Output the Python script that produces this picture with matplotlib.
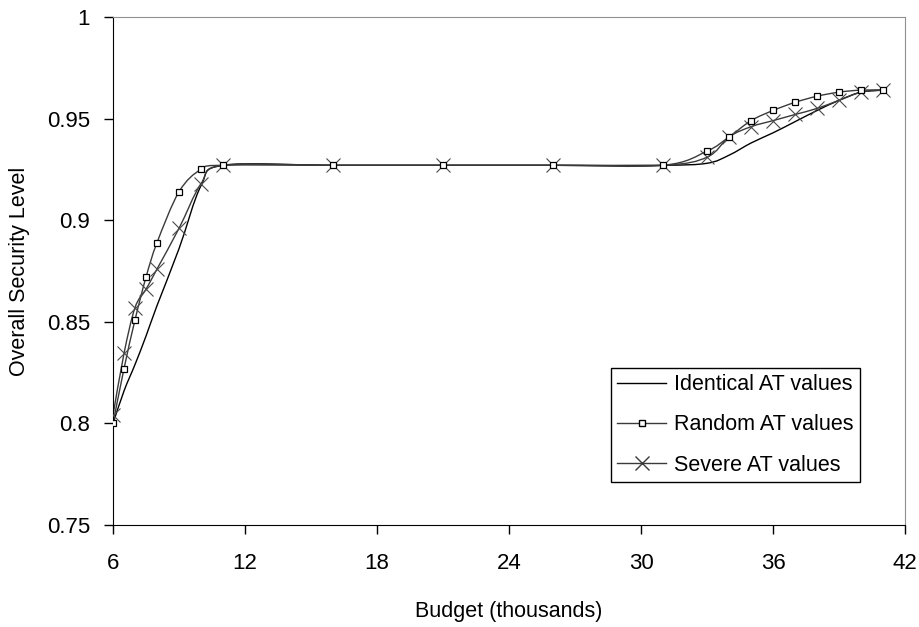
import numpy as np
import matplotlib
matplotlib.use("Agg")
import matplotlib.pyplot as plt
from matplotlib.path import Path
from matplotlib.patches import PathPatch
from matplotlib.lines import Line2D

plt.rcParams['font.family'] = ['Liberation Sans', 'DejaVu Sans']

# budget (thousands)
budget = [6, 6.5, 7, 7.5, 8, 9, 10, 11, 16, 21, 26, 31,
          33, 34, 35, 36, 37, 38, 39, 40, 41]

identical = [0.800, 0.816, 0.829, 0.843, 0.858, 0.886, 0.917, 0.927,
             0.927, 0.927, 0.927, 0.927,
             0.928, 0.932, 0.938, 0.943, 0.9485, 0.954, 0.959, 0.963, 0.964]
random_at = [0.800, 0.827, 0.851, 0.872, 0.889, 0.914, 0.925, 0.927,
             0.927, 0.927, 0.927, 0.927,
             0.934, 0.941, 0.949, 0.954, 0.958, 0.961, 0.963, 0.964, 0.964]
severe = [0.804, 0.8345, 0.857, 0.866, 0.876, 0.896, 0.918, 0.927,
          0.927, 0.927, 0.927, 0.927,
          0.931, 0.941, 0.946, 0.949, 0.952, 0.955, 0.959, 0.963, 0.964]

labels = ['Identical AT values', 'Random AT values', 'Severe AT values']
xticks = [6, 12, 18, 24, 30, 36, 42]
yticks = [0.75, 0.8, 0.85, 0.9, 0.95, 1]


def smooth_path(xs, ys):
    # excel style smoothed line: bezier through the points
    p = np.column_stack([xs, ys]).astype(float)
    n = len(p)
    verts = [p[0]]
    codes = [Path.MOVETO]
    for i in range(n - 1):
        p0 = p[i - 1] if i > 0 else p[i]
        p3 = p[i + 2] if i + 2 < n else p[i + 1]
        c1 = p[i] + (p[i + 1] - p0) / 6
        c2 = p[i + 1] - (p3 - p[i]) / 6
        verts += [c1, c2, p[i + 1]]
        codes += [Path.CURVE4] * 3
    return Path(verts, codes)


fig = plt.figure(figsize=(9.19, 6.27), dpi=100)
ax = fig.add_axes([0.123, 0.1627, 0.862, 0.8103])

series = [
    (identical, 'black', None, 0),
    (random_at, '#3a3a3a', 's', 5),
    (severe, '#3a3a3a', 'x', 9.5),
]
for ys, col, mk, ms in series:
    ax.add_patch(PathPatch(smooth_path(budget, ys), facecolor='none',
                           edgecolor=col, lw=1.0, zorder=2))
    if mk == 's':
        ax.plot(budget, ys, ls='none', marker='s', ms=ms, mfc='white',
                mec='black', mew=0.9, zorder=4)
    elif mk == 'x':
        ax.plot(budget, ys, ls='none', marker='x', ms=ms, color='#4a4a4a',
                mew=0.8, zorder=3)

ax.set_xlim(6, 42)
ax.set_ylim(0.75, 1)
ax.set_xticks(xticks)
ax.set_xticklabels([str(t) for t in xticks])
ax.set_yticks(yticks)
ax.set_yticklabels(['0.75', '0.8', '0.85', '0.9', '0.95', '1'])
ax.tick_params(axis='both', direction='out', length=6.5, width=1,
               labelsize=16, colors='black')
ax.tick_params(axis='x', pad=14)
ax.tick_params(axis='y', pad=10)

for s in ['top', 'right']:
    ax.spines[s].set_color('#909090')
for s in ['left', 'bottom']:
    ax.spines[s].set_color('black')

ax.set_xlabel('Budget (thousands)', fontsize=15.5, labelpad=19)
ax.set_ylabel('Overall Security Level', fontsize=15.5, labelpad=12)

handles = [
    Line2D([], [], color='black', lw=1),
    Line2D([], [], color='#3a3a3a', lw=1, marker='s', ms=5, mfc='white', mec='black'),
    Line2D([], [], color='#3a3a3a', lw=1, marker='x', ms=9.5),
]
leg = ax.legend(handles, labels, loc='lower left', bbox_to_anchor=(0.628, 0.084),
                borderaxespad=0, fontsize=15.5, frameon=True, fancybox=False,
                edgecolor='black', framealpha=1, handlelength=2.3,
                handletextpad=0.35, labelspacing=0.9, borderpad=0.3)
leg.get_frame().set_linewidth(1.0)

fig.savefig('out.png', dpi=100)
